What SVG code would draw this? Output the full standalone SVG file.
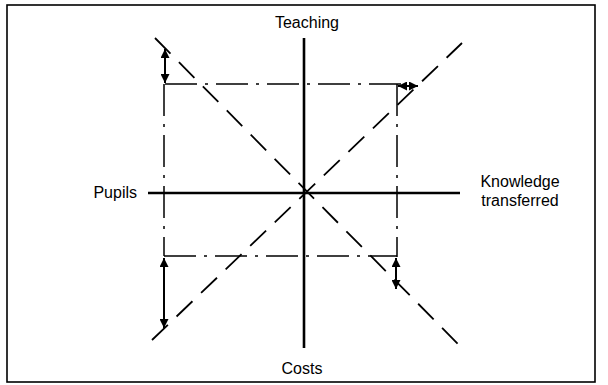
<svg xmlns="http://www.w3.org/2000/svg" width="608" height="385" viewBox="0 0 608 385">
<defs>
<style>
.axis{stroke:#000;stroke-width:2.6;fill:none}
.dash{stroke:#000;stroke-width:1.8;fill:none;stroke-dasharray:22 12}
.dd{stroke:#000;stroke-width:1.5;fill:none;stroke-dasharray:32 8 3 8}
.arr{stroke:#000;stroke-width:2;fill:none;marker-start:url(#ah);marker-end:url(#ah)}
text{font-family:"Liberation Sans",Arial,sans-serif;font-size:16px;fill:#000}
</style>
<marker id="ah" viewBox="0 0 10 10" refX="10" refY="5" markerWidth="9" markerHeight="9" markerUnits="userSpaceOnUse" orient="auto-start-reverse">
<path d="M0,0 L10,5 L0,10 z" fill="#000"/>
</marker>
</defs>
<rect x="7" y="5" width="588" height="377" fill="#fff" stroke="#000" stroke-width="1.6"/>
<g id="connectors">
<line class="dash" x1="155" y1="38" x2="460" y2="346"/>
<line class="dash" x1="152" y1="340" x2="462" y2="43"/>
<path class="dd" d="M165,84 H420"/>
<path class="dd" d="M397,84 V257"/>
<path class="dd" d="M164,256 H397"/>
<path class="dd" d="M164,84 V256"/>
<line class="arr" x1="165" y1="49" x2="165" y2="83"/>
<line class="arr" x1="398" y1="86" x2="418" y2="86"/>
<line class="arr" x1="164" y1="258" x2="164" y2="328"/>
<line class="arr" x1="396" y1="258" x2="396" y2="289"/>
</g>
<g id="axis-vertical"><line class="axis" x1="304" y1="38" x2="304" y2="348"/></g>
<g id="axis-horizontal"><line class="axis" x1="148" y1="193" x2="460" y2="193"/></g>
<g id="teaching"><text x="307" y="28" text-anchor="middle">Teaching</text></g>
<g id="costs"><text x="302" y="374" text-anchor="middle">Costs</text></g>
<g id="pupils"><text x="137" y="198" text-anchor="end">Pupils</text></g>
<g id="knowledge"><text x="520" y="187" text-anchor="middle">Knowledge</text><text x="520" y="206" text-anchor="middle">transferred</text></g>
</svg>
